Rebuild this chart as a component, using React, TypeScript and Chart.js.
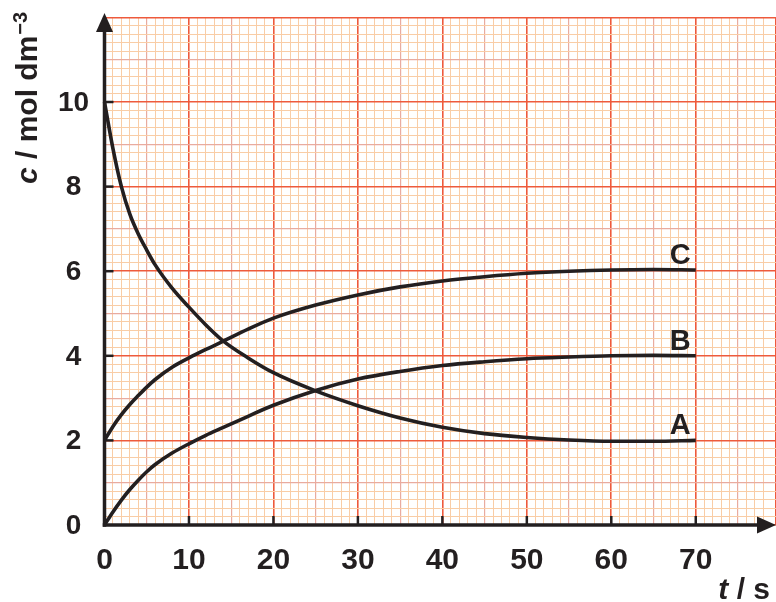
import React, { useEffect, useRef } from 'react';
import { Chart, registerables } from 'chart.js';

Chart.register(...registerables);

// ---- data ----
const times = [0, 1, 2, 3, 4, 5, 6, 8, 10, 12, 14, 17, 20, 25, 30, 35, 40, 45, 50, 55, 60, 65, 70];
const seriesA = [10, 8.9, 8.0, 7.35, 6.88, 6.5, 6.15, 5.6, 5.15, 4.73, 4.36, 3.95, 3.6, 3.17, 2.82, 2.53, 2.31, 2.16, 2.07, 2.01, 1.98, 1.98, 2.0];
const seriesB = [0, 0.31, 0.59, 0.84, 1.06, 1.26, 1.43, 1.7, 1.92, 2.12, 2.3, 2.57, 2.83, 3.18, 3.45, 3.63, 3.77, 3.86, 3.93, 3.97, 4.0, 4.01, 4.0];
const seriesC = [2, 2.33, 2.61, 2.85, 3.06, 3.26, 3.44, 3.73, 3.95, 4.15, 4.34, 4.63, 4.89, 5.2, 5.44, 5.63, 5.77, 5.87, 5.95, 6.0, 6.03, 6.04, 6.03];
const seriesLabels = ['A', 'B', 'C'];
const xTickLabels = [0, 10, 20, 30, 40, 50, 60, 70];
const yTickLabels = [0, 2, 4, 6, 8, 10];
const xTitleMain = 't';
const xTitleRest = ' / s';
const yTitleMain = 'c';
const yTitleRest = ' / mol dm';
const yTitleSup = '\u22123';

const INK = '#231f20';
const FONT = '"Liberation Sans", Arial, Helvetica, sans-serif';
const MINOR = '#f9cda6';
const MID = '#e9ab9f';
const MAJOR = '#ee5a3c';

const overlay = {
  id: 'overlay',
  afterDatasetsDraw(chart: any) {
    const { ctx, chartArea, scales } = chart;
    const xs = scales.x;
    const ys = scales.y;
    const x0 = xs.getPixelForValue(0);
    const y0 = ys.getPixelForValue(0);
    ctx.save();
    ctx.strokeStyle = INK;
    ctx.fillStyle = INK;
    ctx.lineCap = 'butt';

    // axis lines
    ctx.lineWidth = 3.5;
    ctx.beginPath();
    ctx.moveTo(x0, y0 + 1.75);
    ctx.lineTo(x0, chartArea.top + 10);
    ctx.stroke();
    ctx.beginPath();
    ctx.moveTo(x0 - 1.75, y0);
    ctx.lineTo(chart.width - 10, y0);
    ctx.stroke();

    // arrows
    const tipY = chartArea.top - 4.5;
    ctx.beginPath();
    ctx.moveTo(x0, tipY);
    ctx.lineTo(x0 + 8.5, tipY + 19);
    ctx.lineTo(x0 - 8.5, tipY + 19);
    ctx.closePath();
    ctx.fill();
    const tipX = chart.width;
    ctx.beginPath();
    ctx.moveTo(tipX, y0);
    ctx.lineTo(tipX - 19, y0 - 8.5);
    ctx.lineTo(tipX - 19, y0 + 8.5);
    ctx.closePath();
    ctx.fill();

    // inward tick marks
    ctx.lineWidth = 2.5;
    xTickLabels.forEach((v) => {
      if (v === 0) return;
      const px = xs.getPixelForValue(v);
      ctx.beginPath();
      ctx.moveTo(px, y0);
      ctx.lineTo(px, y0 - 9);
      ctx.stroke();
    });
    yTickLabels.forEach((v) => {
      if (v === 0) return;
      const py = ys.getPixelForValue(v);
      ctx.beginPath();
      ctx.moveTo(x0, py);
      ctx.lineTo(x0 + 9, py);
      ctx.stroke();
    });

    // tick labels
    ctx.textAlign = 'center';
    ctx.textBaseline = 'middle';
    ctx.font = `bold 30px ${FONT}`;
    xTickLabels.forEach((v) => {
      ctx.fillText(String(v), xs.getPixelForValue(v), y0 + 36);
    });
    ctx.font = `bold 28px ${FONT}`;
    yTickLabels.forEach((v) => {
      ctx.fillText(String(v), x0 - 31, ys.getPixelForValue(v) + 1);
    });

    // curve labels
    ctx.font = `bold 29px ${FONT}`;
    ctx.textAlign = 'right';
    ctx.textBaseline = 'alphabetic';
    const all = [seriesA, seriesB, seriesC];
    seriesLabels.forEach((lab, i) => {
      const s = all[i];
      const px = xs.getPixelForValue(times[times.length - 1]) - 5;
      const py = ys.getPixelForValue(s[s.length - 1]) - 6;
      ctx.fillText(lab, px, py);
    });

    // x title
    ctx.textAlign = 'left';
    ctx.font = `bold 30px ${FONT}`;
    const restW = ctx.measureText(xTitleRest).width;
    ctx.font = `italic bold 30px ${FONT}`;
    const mainW = ctx.measureText(xTitleMain).width;
    const right = 770;
    const startX = right - restW - mainW;
    ctx.fillText(xTitleMain, startX, 599);
    ctx.font = `bold 30px ${FONT}`;
    ctx.fillText(xTitleRest, startX + mainW, 599);

    // y title (rotated)
    ctx.save();
    ctx.translate(37, 184);
    ctx.rotate(-Math.PI / 2);
    ctx.font = `italic bold 30px ${FONT}`;
    ctx.fillText(yTitleMain, 0, 0);
    let off = ctx.measureText(yTitleMain).width;
    ctx.font = `bold 30px ${FONT}`;
    ctx.fillText(yTitleRest, off, 0);
    off += ctx.measureText(yTitleRest).width + 1;
    ctx.font = `bold 20px ${FONT}`;
    ctx.fillText(yTitleSup, off, -10);
    ctx.restore();

    ctx.restore();
  },
};

function levelX(v: number) {
  const r = Math.round(v);
  if (r % 10 === 0) return 2;
  if (r % 5 === 0) return 1;
  return 0;
}
function levelY(v: number) {
  const r = Math.round(v * 5);
  if (r % 10 === 0) return 2;
  if (r % 5 === 0) return 1;
  return 0;
}
const COLORS = [MINOR, MID, MAJOR];
const WIDTHS = [1, 1.2, 1.6];

export default function App() {
  const ref = useRef<HTMLCanvasElement | null>(null);
  useEffect(() => {
    if (!ref.current) return;
    const mk = (s: number[]) => times.map((t, i) => ({ x: t, y: s[i] }));
    const ds = (label: string, s: number[]) => ({
      label,
      data: mk(s),
      borderColor: INK,
      borderWidth: 3.6,
      pointRadius: 0,
      fill: false,
      cubicInterpolationMode: 'monotone' as const,
      clip: false as any,
    });
    const chart = new Chart(ref.current, {
      type: 'line',
      data: {
        datasets: [ds(seriesLabels[0], seriesA), ds(seriesLabels[1], seriesB), ds(seriesLabels[2], seriesC)],
      },
      options: {
        responsive: false,
        animation: false,
        devicePixelRatio: 1,
        layout: { padding: { top: 17.4, right: 0, left: 0, bottom: 0 }, autoPadding: false },
        plugins: { legend: { display: false }, tooltip: { enabled: false } },
        scales: {
          x: {
            type: 'linear',
            min: 0,
            max: 79.5,
            afterFit: (scale: any) => {
              scale.height = 77;
              scale.paddingLeft = 0;
              scale.paddingRight = 0;
            },
            border: { display: false },
            grid: {
              drawTicks: false,
              color: (c: any) => COLORS[levelX(c.tick.value)],
              lineWidth: (c: any) => WIDTHS[levelX(c.tick.value)],
            },
            ticks: { stepSize: 1, autoSkip: false, display: false },
          },
          y: {
            type: 'linear',
            min: 0,
            max: 12,
            afterFit: (scale: any) => {
              scale.width = 104.5;
              scale.paddingTop = 0;
              scale.paddingBottom = 0;
            },
            border: { display: false },
            grid: {
              drawTicks: false,
              color: (c: any) => COLORS[levelY(c.tick.value)],
              lineWidth: (c: any) => WIDTHS[levelY(c.tick.value)],
            },
            ticks: { stepSize: 0.2, autoSkip: false, display: false },
          },
        },
      },
      plugins: [overlay],
    });
    return () => chart.destroy();
  }, []);
  return (
    <div style={{ position: 'fixed', left: 0, top: 0, width: 776, height: 602, background: '#ffffff' }}>
      <canvas ref={ref} width={776} height={602} style={{ display: 'block' }} />
    </div>
  );
}
